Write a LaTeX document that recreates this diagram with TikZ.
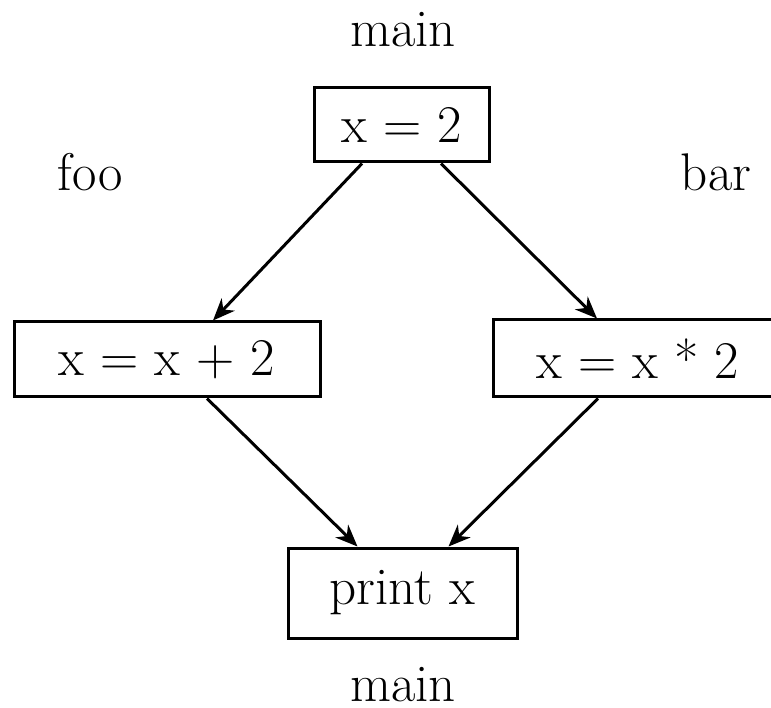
\documentclass[tikz,border=0pt]{standalone}
\usetikzlibrary{arrows.meta,calc}
\begin{document}
\begin{tikzpicture}[x=1pt,y=-1pt,
  box/.style={draw,line width=3pt,inner sep=0pt,font=\fontsize{53}{60}\selectfont},
  lbl/.style={inner sep=0pt,font=\fontsize{53}{60}\selectfont},
  arr/.style={line width=3pt,-{Stealth[length=22pt,width=18pt,inset=7pt]}}]
\useasboundingbox (0,0) rectangle (771,708);
\node[box,minimum width=175pt,minimum height=74pt] (top) at (402,125) {x = 2};
\node[box,minimum width=306pt,minimum height=75pt] (left) at (167,359.5) {x = x + 2};
\node[box,minimum width=290pt,minimum height=77pt] (right) at (638,358.5) {x = x * 2};
\node[box,minimum width=229pt,minimum height=90pt] (bot) at (402.5,593) {print x};
\node[lbl] (m1) at (403,30) {main};
\node[lbl] (foo) at (90,172) {foo};
\node[lbl] (bar) at (716,172) {bar};
\node[lbl] (m2) at (403,685) {main};
\draw[arr] ($(top.south)+(-40,0)$) -- ($(left.north)+(46,0)$);
\draw[arr] ($(top.south)+(39,0)$) -- ($(right.north)+(-41,0)$);
\draw[arr] ($(left.south)+(40,0)$) -- ($(bot.north)+(-45,0)$);
\draw[arr] ($(right.south)+(-40,0)$) -- ($(bot.north)+(46,0)$);
\end{tikzpicture}
\end{document}
